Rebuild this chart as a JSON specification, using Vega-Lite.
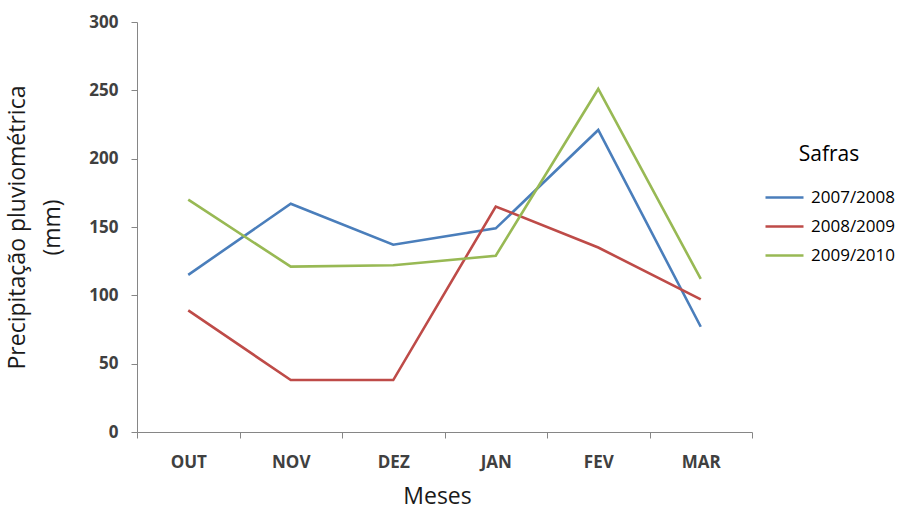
{
  "$schema": "https://vega.github.io/schema/vega-lite/v6.json",
  "width": 615,
  "height": 410,
  "autosize": "none",
  "padding": {"left": 137, "top": 22, "right": 153, "bottom": 79},
  "background": "white",
  "data": {
    "values": [
      {"mes": "OUT", "safra": "2007/2008", "mm": 115},
      {"mes": "NOV", "safra": "2007/2008", "mm": 167},
      {"mes": "DEZ", "safra": "2007/2008", "mm": 137},
      {"mes": "JAN", "safra": "2007/2008", "mm": 149},
      {"mes": "FEV", "safra": "2007/2008", "mm": 221},
      {"mes": "MAR", "safra": "2007/2008", "mm": 77},
      {"mes": "OUT", "safra": "2008/2009", "mm": 89},
      {"mes": "NOV", "safra": "2008/2009", "mm": 38},
      {"mes": "DEZ", "safra": "2008/2009", "mm": 38},
      {"mes": "JAN", "safra": "2008/2009", "mm": 165},
      {"mes": "FEV", "safra": "2008/2009", "mm": 135},
      {"mes": "MAR", "safra": "2008/2009", "mm": 97},
      {"mes": "OUT", "safra": "2009/2010", "mm": 170},
      {"mes": "NOV", "safra": "2009/2010", "mm": 121},
      {"mes": "DEZ", "safra": "2009/2010", "mm": 122},
      {"mes": "JAN", "safra": "2009/2010", "mm": 129},
      {"mes": "FEV", "safra": "2009/2010", "mm": 251},
      {"mes": "MAR", "safra": "2009/2010", "mm": 112}
    ]
  },
  "mark": {"type": "line", "strokeWidth": 2.6},
  "encoding": {
    "x": {
      "field": "mes",
      "type": "ordinal",
      "sort": ["OUT", "NOV", "DEZ", "JAN", "FEV", "MAR"],
      "scale": {"type": "band", "paddingInner": 0, "paddingOuter": 0},
      "title": "Meses",
      "axis": {
        "labelAngle": 0,
        "tickBand": "extent",
        "tickSize": 6,
        "labelPadding": 16,
        "titlePadding": 15,
        "titleX": 300
      }
    },
    "y": {
      "field": "mm",
      "type": "quantitative",
      "scale": {"domain": [0, 300]},
      "title": ["Precipitação pluviométrica", "(mm)"],
      "axis": {
        "values": [0, 50, 100, 150, 200, 250, 300],
        "grid": false,
        "tickSize": 6,
        "labelPadding": 13,
        "titleX": -131,
        "titleBaseline": "top",
        "titleLineHeight": 35
      }
    },
    "color": {
      "field": "safra",
      "type": "nominal",
      "scale": {"range": ["#4a7ebb", "#be4b48", "#98b954"]},
      "legend": {
        "title": "Safras",
        "orient": "none",
        "legendX": 627,
        "legendY": 122,
        "titleAnchor": "middle",
        "titleFontSize": 21,
        "titleFontWeight": "normal",
        "titleFont": "Open Sans",
        "titleColor": "black",
        "titlePadding": 12,
        "labelFontSize": 17,
        "labelFont": "Open Sans",
        "labelColor": "black",
        "symbolType": "stroke",
        "symbolSize": 1444,
        "symbolStrokeWidth": 2.6,
        "rowPadding": 0,
        "labelOffset": 6
      }
    }
  },
  "config": {
    "view": {"stroke": null},
    "axis": {
      "domainColor": "#868686",
      "tickColor": "#868686",
      "labelFont": "Open Sans",
      "labelFontSize": 17,
      "labelFontWeight": "bold",
      "labelColor": "#404040",
      "titleFont": "Open Sans",
      "titleFontSize": 23,
      "titleFontWeight": "normal",
      "titleColor": "#1a1a1a"
    }
  }
}
